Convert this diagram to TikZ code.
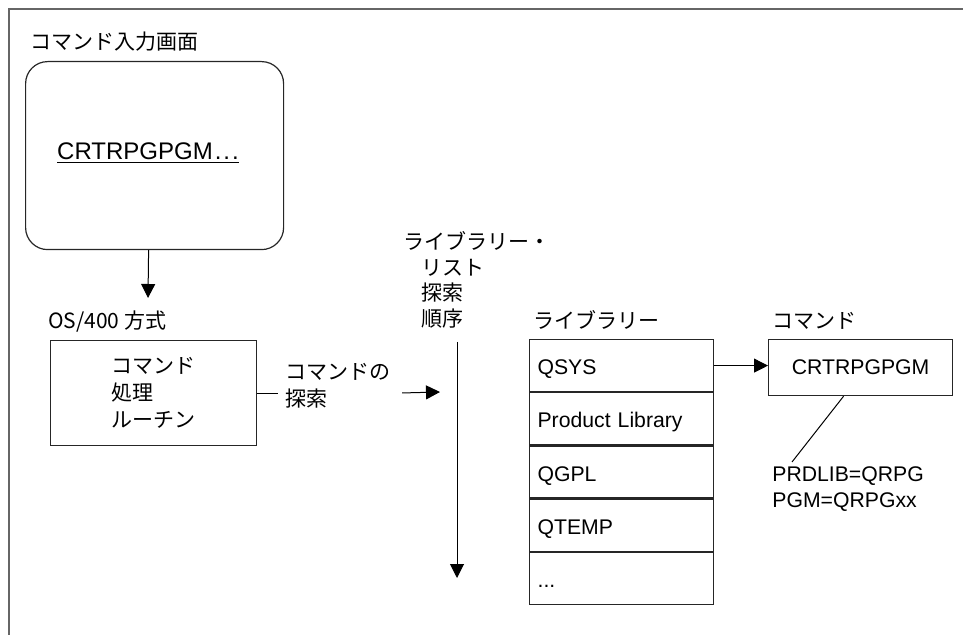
\documentclass[tikz,border=0pt]{standalone}
\usepackage{fontspec}
\setmainfont{Liberation Sans}
\newfontfamily\jpfont{Noto Sans CJK JP}
\usetikzlibrary{arrows.meta,positioning}
\tikzset{
	jp/.style={font=\jpfont\fontsize{10.5}{13.5}\selectfont},
	lat/.style={font=\fontsize{10.6}{13}\selectfont},
	box/.style={draw=black!85, line width=0.6pt},
	libcell/.style={box, lat, text width=84pt, inner xsep=4pt, minimum height=26pt, text height=11pt, text depth=1.8pt, align=left},
	arr/.style={-{Triangle[length=7pt,width=7pt]}, line width=0.5pt}
}

\begin{document}
\begin{tikzpicture}[x=0.5pt, y=-0.5pt]
			\useasboundingbox (0,0) rectangle (963,635);
			\draw[black!60, line width=1pt] (9,635) -- (9,9) -- (963,9);
			\node[jp, anchor=west] (screentitle) at (23,42) {コマンド入力画面};
			\node[box, rounded corners=11pt, minimum width=129pt, minimum height=94pt, anchor=north west] (screen) at (25,61) {};
			\node[lat, font=\fontsize{12}{14}\selectfont] (cmdline) at (148,153) {\underline{CRTRPGPGM\kern1pt.\kern1pt.\kern1pt.}};
			\coordinate (osin) at (148,298);
			\draw[arr] ([xshift=-3pt]screen.south) -- (osin);
			\node[jp, anchor=west] (ostitle) at (41,322) {OS/400 方式};
			\node[box, jp, minimum width=103pt, minimum height=52.5pt, align=left, anchor=north west] (proc) at (50,340) {コマンド\\処理\\ルーチン};
			\node[jp, anchor=west, align=left] (search) at (278,386) {コマンドの\\探索};
			\draw[line width=0.5pt] (proc.east) -- (proc.east -| search.west);
			\coordinate (ordhit) at (440,392);
			\draw[arr, shorten <=2.5pt] (search.east |- proc.east) -- (ordhit);
			\node[jp, font=\jpfont\fontsize{10.5}{12.8}\selectfont, align=left] (order) at (477,280) {ライブラリー・\\\hspace*{9pt}リスト\\\hspace*{9pt}探索\\\hspace*{9pt}順序};
			\coordinate (ordtop) at (457,342);
			\coordinate (ordend) at (457,578);
			\draw[arr] (ordtop) -- (ordend);
			\node[libcell, anchor=north west] (qsys) at (529,339) {QSYS};
			\node[libcell, below=0pt of qsys] (prodlib) {Product Library};
			\node[libcell, below=0pt of prodlib] (qgpl) {QGPL};
			\node[libcell, below=0pt of qgpl] (qtemp) {QTEMP};
			\node[libcell, below=0pt of qtemp] (morelib) {...};
			\node[jp, anchor=south west, inner sep=2pt, yshift=2.5pt] (libtitle) at (qsys.north west) {ライブラリー};
			\node[box, lat, minimum width=92pt, minimum height=28pt, anchor=north west] (cmd) at (768,339) {CRTRPGPGM};
			\node[jp, anchor=south west, inner sep=2pt, yshift=2.5pt] (cmdtitle) at (cmd.north west) {コマンド};
			\draw[arr] (qsys.east) -- (qsys.east -| cmd.west);
			\node[lat, anchor=north west, align=left, inner sep=2pt] (attr) at (768,462) {PRDLIB=QRPG\\PGM=QRPGxx};
			\draw[line width=0.5pt] ([xshift=-8.5pt]cmd.south) -- ([xshift=12pt]attr.north west);
		\end{tikzpicture}
\end{document}
